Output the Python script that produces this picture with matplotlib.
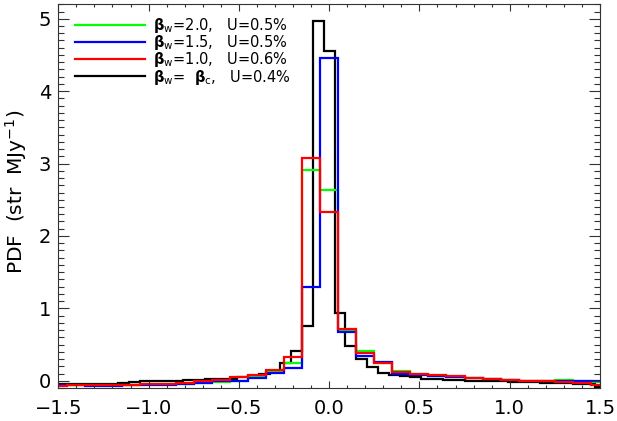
import numpy as np
import matplotlib
matplotlib.use('Agg')
import matplotlib.pyplot as plt
from matplotlib.ticker import MultipleLocator
from matplotlib.lines import Line2D

plt.rcParams['font.family'] = ['DejaVu Sans']
plt.rcParams['mathtext.fontset'] = 'dejavusans'

# bin centres
centres_w = np.round(np.arange(-1.5, 1.5001, 0.1), 2)    # beta_w histograms (31 bins)
centres_c = np.round(np.arange(-1.5, 1.5001, 0.06), 2)   # beta_c histogram (51 bins)

pdf_w20 = [-0.06, -0.06, -0.06, -0.06, -0.06, -0.05, -0.05, -0.04, -0.03, -0.02, 0.00, 0.06, 0.13, 0.25,
           2.91, 2.63, 0.70, 0.41, 0.25, 0.13, 0.09, 0.07, 0.05, 0.04, 0.02, 0.01, 0.00, 0.00, 0.01,
           -0.01, -0.02]
pdf_w15 = [-0.06, -0.06, -0.07, -0.07, -0.06, -0.06, -0.06, -0.05, -0.03, -0.01, 0.00, 0.04, 0.11, 0.18,
           1.29, 4.46, 0.67, 0.34, 0.26, 0.10, 0.08, 0.06, 0.05, 0.04, 0.02, 0.01, 0.00, 0.00, -0.01,
           0.00, -0.01]
pdf_w10 = [-0.07, -0.06, -0.06, -0.06, -0.06, -0.05, -0.04, -0.03, -0.01, 0.01, 0.05, 0.08, 0.15, 0.33,
           3.07, 2.33, 0.72, 0.38, 0.25, 0.12, 0.10, 0.08, 0.06, 0.04, 0.02, 0.01, 0.00, -0.01, -0.02,
           -0.03, -0.06]
pdf_wc = [-0.05, -0.05, -0.05, -0.04, -0.04, -0.04, -0.03, -0.02, 0.00, -0.01,
          0.00, 0.00, 0.01, 0.01, 0.02, 0.03, 0.03, 0.05, 0.07, 0.09,
          0.14, 0.24, 0.41, 0.76, 4.97, 4.56, 0.94, 0.48, 0.30, 0.19,
          0.11, 0.08, 0.06, 0.05, 0.03, 0.02, 0.01, 0.01, 0.00, 0.00,
          -0.01, -0.01, -0.02, -0.02, -0.02, -0.03, -0.03, -0.03, -0.04, -0.04,
          -0.09]

labels = [r'$\mathbf{\beta}_{\rm w}$=2.0,   U=0.5%',
          r'$\mathbf{\beta}_{\rm w}$=1.5,   U=0.5%',
          r'$\mathbf{\beta}_{\rm w}$=1.0,   U=0.6%',
          r'$\mathbf{\beta}_{\rm w}$=  $\mathbf{\beta}_{\rm c}$,   U=0.4%']
colors = ['#00ff00', '#0000ff', '#ff0000', '#000000']


def edges_from(c):
    c = np.asarray(c)
    h = (c[1] - c[0]) / 2
    return np.append(c - h, c[-1] + h)


fig = plt.figure(figsize=(6.17, 4.21), dpi=100)
ax = fig.add_axes([0.0945, 0.0784, 0.8779, 0.9114])

lw = 1.6
ax.stairs(pdf_wc, edges_from(centres_c), color=colors[3], lw=lw, baseline=None)
ax.stairs(pdf_w20, edges_from(centres_w), color=colors[0], lw=lw, baseline=None)
ax.stairs(pdf_w15, edges_from(centres_w), color=colors[1], lw=lw, baseline=None)
ax.stairs(pdf_w10, edges_from(centres_w), color=colors[2], lw=lw, baseline=None)

ax.set_xlim(-1.5, 1.5)
ax.set_ylim(-0.1, 5.2)

ax.xaxis.set_major_locator(MultipleLocator(0.5))
ax.xaxis.set_minor_locator(MultipleLocator(0.1))
ax.yaxis.set_major_locator(MultipleLocator(1))
ax.yaxis.set_minor_locator(MultipleLocator(0.1))
ax.xaxis.set_major_formatter(lambda v, p: f'{v:.1f}'.replace('-', '\u2212'))
ax.tick_params(which='both', direction='in', top=True, right=True, width=0.8, colors='#333333',
               labelcolor='black', labelsize=14)
ax.tick_params(axis='x', which='major', length=5, pad=8)
ax.tick_params(axis='x', which='minor', length=2.5)
ax.tick_params(axis='y', which='major', length=8, pad=5)
ax.tick_params(axis='y', which='minor', length=4)
for s in ax.spines.values():
    s.set_color('#333333')
    s.set_linewidth(0.8)

ax.set_ylabel(r'PDF  (str  MJy$^{-1}$)', fontsize=14.5)
ax.yaxis.set_label_coords(-0.054, 0.51)

handles = [Line2D([], [], color=c, lw=lw) for c in colors]
ax.legend(handles, labels, loc='upper left', frameon=False, fontsize=10.5,
          handlelength=4.8, handletextpad=0.55, labelspacing=-0.12,
          borderpad=0, borderaxespad=0, bbox_to_anchor=(0.031, 0.97))

fig.savefig('out.png', dpi=100)
